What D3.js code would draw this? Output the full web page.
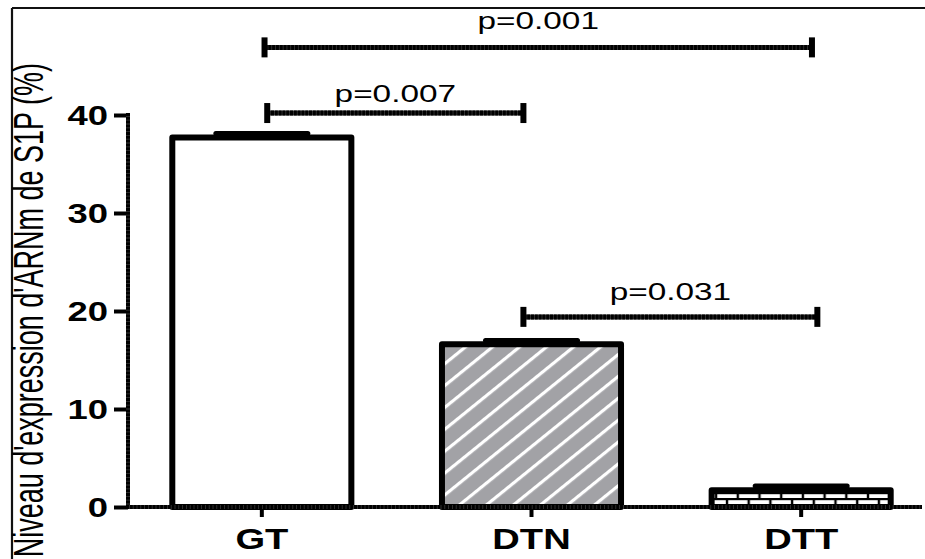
<!DOCTYPE html>
<html>
<head>
<meta charset="utf-8">
<script src="https://cdn.jsdelivr.net/npm/d3@7"></script>
<style>
  html, body { margin: 0; padding: 0; background: #fff; }
  svg { display: block; }
  text { font-family: "Liberation Sans", Arial, Helvetica, sans-serif; fill: #000; }
</style>
</head>
<body>
<svg id="chart" width="925" height="559"></svg>
<script>
// Group means and SEM (percent S1P mRNA expression)
const categories = ["GT", "DTN", "DTT"];
const means = [37.7, 16.6, 1.7];
const sems = [0.4, 0.4, 0.45];
const yTicks = [0, 10, 20, 30, 40];
const yTitle = "Niveau d'expression d'ARNm de S1P (%)";

// Significance brackets: ends given as category index, level in axis units
const bracketFrom = [0.01, 0.02, 0.97];
const bracketTo = [2.04, 0.97, 2.06];
const bracketLevel = [46.9, 40.2, 19.4];
const bracketText = ["p=0.001", "p=0.007", "p=0.031"];
const bracketTextLevel = [48.8, 41.3, 21.1];

const W = 925, H = 559;
const svg = d3.select("#chart");

// fill styles per group
const barFill = { GT: "#ffffff", DTN: "url(#hatch)", DTT: "url(#brick)" };

const defs = svg.append("defs");
// diagonal white stripes on grey
const hatch = defs.append("pattern")
  .attr("id", "hatch")
  .attr("patternUnits", "userSpaceOnUse")
  .attr("width", 12).attr("height", 17)
  .attr("patternTransform", "rotate(-39)");
hatch.append("rect").attr("width", 12).attr("height", 17).attr("fill", "#a2a2a6");
hatch.append("rect").attr("y", 0).attr("width", 12).attr("height", 3.2).attr("fill", "#ffffff");

// white bricks with black mortar
const brick = defs.append("pattern")
  .attr("id", "brick")
  .attr("patternUnits", "userSpaceOnUse")
  .attr("width", 21.7).attr("height", 12)
  .attr("y", 1);
brick.append("rect").attr("width", 21.7).attr("height", 12).attr("fill", "#000");
brick.append("rect").attr("x", 1.2).attr("y", 1.2).attr("width", 19.3).attr("height", 3.8).attr("fill", "#fff");
brick.append("rect").attr("x", -9.6).attr("y", 7.2).attr("width", 19.3).attr("height", 3.8).attr("fill", "#fff");
brick.append("rect").attr("x", 12.1).attr("y", 7.2).attr("width", 19.3).attr("height", 3.8).attr("fill", "#fff");

// scales
const x = d3.scaleBand()
  .domain(categories)
  .range([127, 936])
  .paddingInner(0.336)
  .paddingOuter(0.168);
const bw = x.bandwidth();
const y = d3.scaleLinear().domain([0, 40]).range([507, 115]);
const xi = d3.scaleLinear()
  .domain([0, categories.length - 1])
  .range([x(categories[0]) + bw / 2, x(categories[categories.length - 1]) + bw / 2]);

// frame lines (top and left)
svg.append("line").attr("x1", 12).attr("x2", W).attr("y1", 8).attr("y2", 8)
  .attr("stroke", "#111").attr("stroke-width", 2.2);
svg.append("line").attr("x1", 12).attr("x2", 12).attr("y1", 8).attr("y2", H)
  .attr("stroke", "#111").attr("stroke-width", 2.2);

// a thick black rule with a faint dotted grain
function rule(g, x1, y1, x2, y2, w) {
  g.append("line").attr("x1", x1).attr("y1", y1).attr("x2", x2).attr("y2", y2)
    .attr("stroke", "#3a3a3a").attr("stroke-width", w);
  g.append("line").attr("x1", x1).attr("y1", y1).attr("x2", x2).attr("y2", y2)
    .attr("stroke", "#000").attr("stroke-width", w).attr("stroke-dasharray", "3 0.8");
}

// bars
const rows = categories.map((c, i) => ({ c, m: means[i], s: sems[i] }));
svg.append("g").selectAll("rect")
  .data(rows).join("rect")
  .attr("x", d => x(d.c))
  .attr("y", d => y(d.m))
  .attr("width", bw)
  .attr("height", d => y(0) - y(d.m))
  .attr("fill", d => barFill[d.c])
  .attr("stroke", "#000")
  .attr("stroke-width", 6)
  .attr("stroke-linejoin", "round");

// y axis
const gy = svg.append("g").attr("transform", "translate(128,0)")
  .call(d3.axisLeft(y).tickValues(yTicks).tickSize(14).tickSizeOuter(0));
gy.select(".domain").remove();
gy.selectAll(".tick line").attr("stroke", "#000").attr("stroke-width", 4);
gy.selectAll(".tick text")
  .attr("x", 0).attr("dy", "0.36em")
  .attr("transform", "translate(-20,0) scale(1.35,1)")
  .attr("font-size", 27).attr("font-weight", "bold")
  .style("font-family", "'Liberation Sans', Arial, sans-serif");
rule(gy, 0, y(40) - 2, 0, y(0) + 2, 4);

// x axis
const gx = svg.append("g").attr("transform", `translate(0,${y(0)})`)
  .call(d3.axisBottom(x).tickSize(10).tickSizeOuter(0));
gx.select(".domain").remove();
gx.selectAll(".tick line").attr("stroke", "#000").attr("stroke-width", 4);
gx.selectAll(".tick text")
  .attr("y", 0).attr("dy", null)
  .attr("transform", "translate(0,41.5) scale(1.27,1)")
  .attr("font-size", 30).attr("font-weight", "bold")
  .style("font-family", "'Liberation Sans', Arial, sans-serif");
rule(gx, 126, 0, 922, 0, 4);

// error bars (upper SEM)
const eb = svg.append("g");
rows.forEach(d => {
  const cx = x(d.c) + bw / 2;
  eb.append("line").attr("x1", cx).attr("x2", cx)
    .attr("y1", y(d.m)).attr("y2", y(d.m + d.s))
    .attr("stroke", "#000").attr("stroke-width", 4);
  eb.append("line").attr("x1", cx - 46).attr("x2", cx + 46)
    .attr("y1", y(d.m + d.s)).attr("y2", y(d.m + d.s))
    .attr("stroke", "#000").attr("stroke-width", 5).attr("stroke-linecap", "round");
});

// significance brackets
const gb = svg.append("g");
bracketText.forEach((t, i) => {
  const x1 = xi(bracketFrom[i]), x2 = xi(bracketTo[i]), yy = y(bracketLevel[i]);
  rule(gb, x1, yy, x2, yy, 5);
  [x1, x2].forEach(px => {
    gb.append("rect").attr("x", px - 3).attr("y", yy - 10)
      .attr("width", 6).attr("height", 20).attr("fill", "#000");
  });
  gb.append("text")
    .attr("transform", `translate(${(x1 + x2) / 2},${y(bracketTextLevel[i])}) scale(1.45,1)`)
    .attr("text-anchor", "middle")
    .attr("font-size", 23)
    .text(t);
});

// y axis title
svg.append("text")
  .attr("transform", "translate(43,63) scale(1.55,1) rotate(-90)")
  .attr("text-anchor", "end")
  .attr("font-size", 27)
  .text(yTitle);
</script>
</body>
</html>
